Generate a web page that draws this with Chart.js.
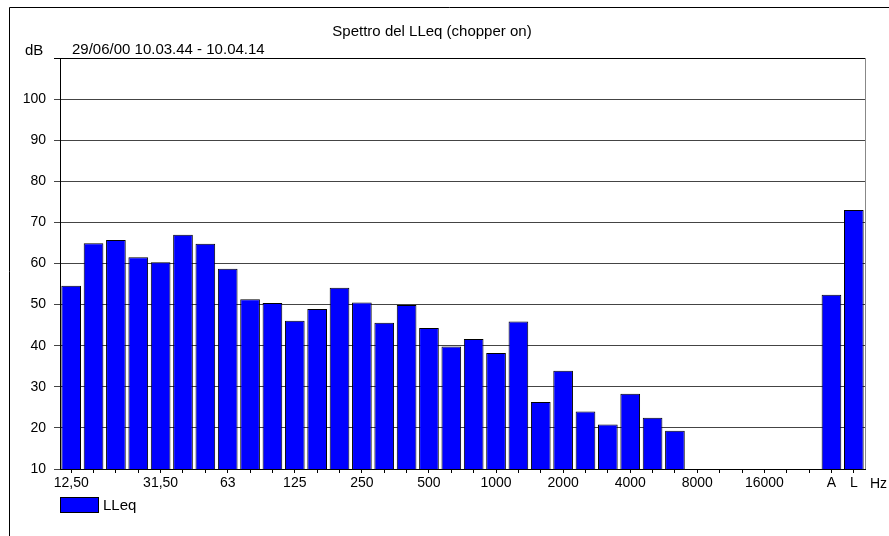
<!DOCTYPE html>
<html>
<head>
<meta charset="utf-8">
<script src="https://cdn.jsdelivr.net/npm/chart.js@4/dist/chart.umd.min.js"></script>
<style>
  html, body { margin: 0; padding: 0; background: #fff; }
  #wrap { width: 889px; height: 536px; position: relative; }
</style>
</head>
<body>
<div id="wrap"><canvas id="spectrum"></canvas></div>
<script>
// third-octave bands, then the A and L totals
const categories = ['12,50', '16', '20', '25', '31,50', '40', '50', '63', '80', '100',
  '125', '160', '200', '250', '315', '400', '500', '630', '800', '1000',
  '1250', '1600', '2000', '2500', '3150', '4000', '5000', '6300', '8000', '10000',
  '12500', '16000', '20000', '', 'A', 'L'];
const shownLabels = ['12,50', '31,50', '63', '125', '250', '500', '1000', '2000',
  '4000', '8000', '16000', 'A', 'L'];
const lleq = [54.6, 64.9, 65.7, 61.5, 60.3, 67.0, 64.8, 58.7, 51.3, 50.4,
  46.1, 48.9, 54.1, 50.5, 45.6, 49.9, 44.3, 39.8, 41.6, 38.2,
  45.9, 26.3, 33.9, 24.0, 20.8, 28.3, 22.5, 19.3, null, null,
  null, null, null, null, 52.4, 73.0];
const yMin = 10, yMax = 110, yStep = 10;

const FONT = '"Liberation Sans", Arial, sans-serif';

const decor = {
  id: 'decor',
  afterDraw(chart) {
    const ctx = chart.ctx;
    const a = chart.chartArea;
    ctx.save();
    // outer frame (top + left)
    ctx.strokeStyle = '#000';
    ctx.lineWidth = 1;
    ctx.beginPath();
    ctx.moveTo(9.5, 536);
    ctx.lineTo(9.5, 7.5);
    ctx.lineTo(889, 7.5);
    ctx.stroke();
    // right border of the plot
    ctx.strokeStyle = '#888';
    ctx.beginPath();
    ctx.moveTo(Math.round(a.right) + 0.5, a.top);
    ctx.lineTo(Math.round(a.right) + 0.5, a.bottom);
    ctx.stroke();

    ctx.fillStyle = '#000';
    ctx.font = '15px ' + FONT;
    ctx.textBaseline = 'middle';
    ctx.textAlign = 'center';
    ctx.fillText('Spettro del LLeq (chopper on)', 432, 32);
    ctx.textAlign = 'left';
    ctx.fillText('dB', 25, 51);
    ctx.fillText('29/06/00 10.03.44 - 10.04.14', 72, 50);
    ctx.font = '14px ' + FONT;
    ctx.fillText('Hz', 870, 484);

    // legend
    ctx.fillStyle = '#0000ff';
    ctx.fillRect(60, 497, 38, 15);
    ctx.strokeStyle = '#000';
    ctx.strokeRect(60.5, 497.5, 38, 15);
    ctx.fillStyle = '#000';
    ctx.font = '15px ' + FONT;
    ctx.fillText('LLeq', 103, 506);
    ctx.restore();
  }
};

new Chart(document.getElementById('spectrum'), {
  type: 'bar',
  data: {
    labels: categories,
    datasets: [{
      label: 'LLeq',
      data: lleq,
      backgroundColor: '#0000ff',
      borderColor: '#000',
      borderWidth: 1,
      barPercentage: 0.88,
      categoryPercentage: 1.0,
    }],
  },
  options: {
    responsive: true,
    maintainAspectRatio: false,
    animation: false,
    layout: { padding: { top: 58, right: 24, bottom: 42, left: 0 } },
    plugins: {
      legend: { display: false },
      title: { display: false },
      tooltip: { enabled: false },
    },
    scales: {
      x: {
        grid: { display: true, drawOnChartArea: false, drawTicks: true, tickLength: 4, offset: false, color: '#000' },
        border: { color: '#000' },
        ticks: {
          autoSkip: false,
          maxRotation: 0,
          padding: 2,
          color: '#000',
          font: { family: FONT, size: 14 },
          callback: function (v, i) {
            const lbl = categories[i];
            return shownLabels.includes(lbl) ? lbl : '';
          },
        },
        afterFit: function (scale) { scale.height = 25; },
      },
      y: {
        min: yMin,
        max: yMax,
        grid: {
          color: function (c) { return c.tick && c.tick.value === yMax ? '#000' : '#444'; },
          tickLength: 6,
        },
        border: { color: '#000' },
        ticks: {
          stepSize: yStep,
          padding: 8,
          color: '#000',
          font: { family: FONT, size: 14 },
          callback: function (v) { return v > 100 ? '' : v; },
        },
        afterFit: function (scale) { scale.width = 60; },
      },
    },
  },
  plugins: [decor],
});
</script>
</body>
</html>
